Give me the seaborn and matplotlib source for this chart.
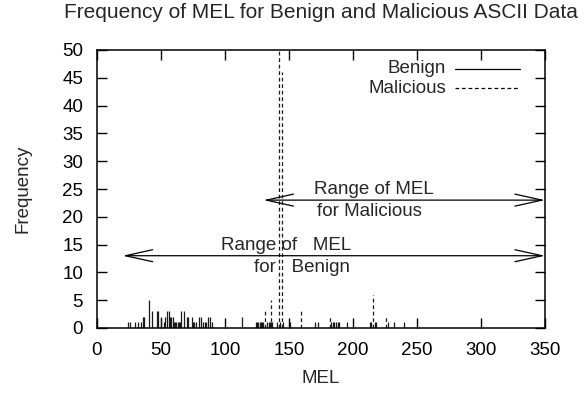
import seaborn as sns
import matplotlib.pyplot as plt

# MEL values, frequency per value
benign_mel = [24, 26, 30, 32, 34, 36, 37, 41, 43, 47, 48, 50, 52, 53, 55, 56, 57, 58,
              59, 60, 61, 62, 63, 64, 65, 66, 68, 70, 71, 74, 75, 76, 77, 80, 81, 83,
              84, 85, 87, 88, 90, 113, 124, 125, 126, 127, 128, 129, 130, 133, 134,
              135, 136, 137, 141, 143, 145, 151, 170, 173, 183, 184, 185, 187, 188,
              189, 195, 213, 214, 217, 218, 227, 232, 240]
benign_freq = [1, 1, 1, 1, 1, 2, 2, 5, 3, 3, 3, 2, 1, 2, 3, 3, 2, 2,
               2, 1, 1, 1, 1, 1, 1, 3, 3, 2, 2, 2, 1, 1, 1, 2, 2, 1,
               1, 1, 2, 2, 1, 2, 1, 1, 1, 1, 1, 1, 1, 1, 1,
               1, 1, 1, 1, 1, 1, 1, 1, 1, 1, 1, 1, 1, 1,
               1, 1, 1, 1, 1, 1, 1, 1, 1]

malicious_mel = [131, 136, 142.3, 144.9, 159, 182, 216, 226]
malicious_freq = [3, 5, 60, 46, 3, 2, 6, 2]

x_ticks = list(range(0, 351, 50))
y_ticks = list(range(0, 51, 5))

# (start, end, frequency level) of the range arrows
range_benign = (20, 350, 13)
range_malicious = (130, 350, 23)

sns.set_style('ticks')
plt.rcParams['font.family'] = ['Liberation Sans', 'DejaVu Sans']
plt.rcParams['font.size'] = 13.5

W, H = 587, 393
fig = plt.figure(figsize=(W / 100, H / 100), dpi=100)
ax = fig.add_axes([97 / W, 65 / H, 448 / W, 278 / H])

ax.vlines(benign_mel, 0, benign_freq, colors='#1a1a1a', linewidth=0.9)
ax.vlines(malicious_mel, 0, malicious_freq, colors='#1a1a1a', linewidth=0.9,
          linestyles=[(0, (3, 2.2))])

ax.set_xlim(0, 350)
ax.set_ylim(0, 50)
ax.set_xticks(x_ticks)
ax.set_yticks(y_ticks)
ax.tick_params(direction='in', length=7, width=1, top=True, right=True,
               colors='black', labelsize=13.5)
ax.tick_params(axis='x', pad=10)
ax.tick_params(axis='y', pad=10)
for s in ax.spines.values():
    s.set_linewidth(1.1)
    s.set_color('black')
    s.set_visible(True)

ax.set_xlabel('MEL', labelpad=8)
ax.set_ylabel('Frequency', labelpad=22)
fig.text(321 / W, 1 - 13 / H, 'Frequency of MEL for Benign and Malicious ASCII Data',
         ha='center', va='center', fontsize=15)

# range arrows
arrow_style = dict(arrowstyle='<->,head_length=1.45,head_width=0.32',
                   color='black', lw=0.9, shrinkA=0, shrinkB=0)
for start, end, level in [range_benign, range_malicious]:
    ax.annotate('', xy=(start, level), xytext=(end, level), arrowprops=arrow_style)

ax.text(216.5, 24.9, 'Range of MEL', ha='center', va='center')
ax.text(212.5, 21.0, 'for Malicious', ha='center', va='center')
ax.text(148, 14.9, 'Range of   MEL', ha='center', va='center')
ax.text(160, 10.8, 'for   Benign', ha='center', va='center')

# gnuplot style key: label then line sample
ax.text(0.779, 0.932, 'Benign', transform=ax.transAxes, ha='right', va='center')
ax.text(0.779, 0.863, 'Malicious', transform=ax.transAxes, ha='right', va='center')
ax.plot([0.799, 0.944], [0.932, 0.932], transform=ax.transAxes, color='black', lw=0.9)
ax.plot([0.799, 0.944], [0.863, 0.863], transform=ax.transAxes, color='black', lw=0.9,
        linestyle=(0, (3, 2.2)))

fig.savefig('out.png', dpi=100)
